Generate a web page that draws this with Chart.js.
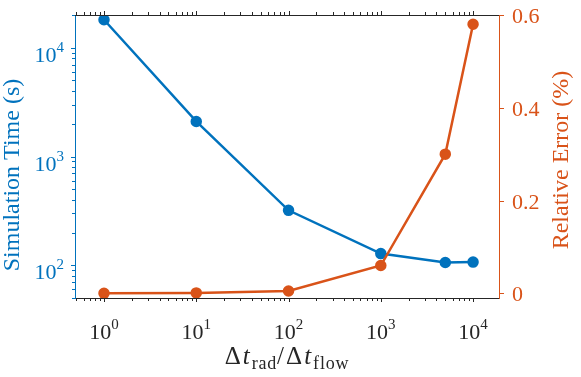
<!DOCTYPE html>
<html>
<head>
<meta charset="utf-8">
<script src="https://cdn.jsdelivr.net/npm/chart.js@4"></script>
<style>
  body { margin: 0; background: #fff; }
  #wrap { width: 581px; height: 377px; position: relative; }
</style>
</head>
<body>
<div id="wrap"><canvas id="timeChart"></canvas></div>
<script>
// data
const ratios = [1, 10, 100, 1000, 5000, 10000];
const simTime = [18100, 2100, 320, 128, 106, 107];
const relError = [0, 0.001, 0.005, 0.06, 0.3, 0.58];

// tick labels
const xExps = [0, 1, 2, 3, 4];
const timeExps = [2, 3, 4];
const errTicks = [0, 0.2, 0.4, 0.6];
const errLabels = ['0', '0.2', '0.4', '0.6'];

const BLUE = '#0072BD';
const ORANGE = '#D95319';
const DARK = '#262626';
const SERIF = '"Liberation Serif", "DejaVu Serif", serif';

function minorTicks(lo, hi) {
    const out = [];
    for (let e = -1; e <= 5; e++) {
        for (let k = 1; k < 10; k++) {
            const v = k * Math.pow(10, e);
            if (v >= lo && v <= hi) out.push({ v: v, major: k === 1 });
        }
    }
    return out;
}

// draws "10" with a raised exponent, x is the anchor
function drawPow(ctx, exp, x, y, align, color) {
    ctx.fillStyle = color;
    ctx.font = '22px ' + SERIF;
    const wb = ctx.measureText('10').width;
    ctx.font = '15px ' + SERIF;
    const we = ctx.measureText(String(exp)).width;
    const total = wb + we;
    let x0 = align === 'center' ? x - total / 2 : x - total;
    ctx.textAlign = 'left';
    ctx.textBaseline = 'alphabetic';
    ctx.font = '22px ' + SERIF;
    ctx.fillText('10', x0, y);
    ctx.font = '15px ' + SERIF;
    ctx.fillText(String(exp), x0 + wb, y - 10);
}

const frame = {
    id: 'frame',
    afterDraw(chart) {
        const { ctx, chartArea: a, scales } = chart;
        const x = scales.x, yt = scales.yTime, ye = scales.yErr;
        ctx.save();
        ctx.lineWidth = 1;

        // top spine
        ctx.strokeStyle = DARK;
        ctx.beginPath();
        ctx.moveTo(a.left, Math.round(a.top) + 0.5);
        ctx.lineTo(a.right, Math.round(a.top) + 0.5);
        ctx.stroke();

        // x ticks, bottom and top, outward
        minorTicks(x.min, x.max).forEach(t => {
            const px = Math.round(x.getPixelForValue(t.v)) + 0.5;
            const len = t.major ? 4 : 3;
            ctx.beginPath();
            ctx.moveTo(px, a.bottom);
            ctx.lineTo(px, a.bottom + len);
            ctx.moveTo(px, a.top);
            ctx.lineTo(px, a.top - len);
            ctx.stroke();
        });

        // left ticks
        ctx.strokeStyle = BLUE;
        minorTicks(yt.min, yt.max).forEach(t => {
            const py = Math.round(yt.getPixelForValue(t.v)) + 0.5;
            const len = t.major ? 4 : 3;
            ctx.beginPath();
            ctx.moveTo(a.left, py);
            ctx.lineTo(a.left - len, py);
            ctx.stroke();
        });

        // right ticks
        ctx.strokeStyle = ORANGE;
        errTicks.forEach(v => {
            const py = Math.round(ye.getPixelForValue(v)) + 0.5;
            ctx.beginPath();
            ctx.moveTo(a.right, py);
            ctx.lineTo(a.right + 5, py);
            ctx.stroke();
        });

        // tick labels
        xExps.forEach(e => {
            drawPow(ctx, e, x.getPixelForValue(Math.pow(10, e)), a.bottom + 41, 'center', DARK);
        });
        timeExps.forEach(e => {
            drawPow(ctx, e, a.left - 11, yt.getPixelForValue(Math.pow(10, e)) + 14, 'right', BLUE);
        });
        ctx.font = '22px ' + SERIF;
        ctx.fillStyle = ORANGE;
        ctx.textAlign = 'left';
        errTicks.forEach((v, i) => {
            ctx.fillText(errLabels[i], a.right + 13, ye.getPixelForValue(v) + 8);
        });

        // y titles
        ctx.font = '24px ' + SERIF;
        ctx.textAlign = 'center';
        ctx.save();
        ctx.translate(19, 175);
        ctx.rotate(-Math.PI / 2);
        ctx.fillStyle = BLUE;
        ctx.fillText('Simulation Time (s)', 0, 0);
        ctx.restore();
        ctx.save();
        ctx.translate(568, 160);
        ctx.rotate(-Math.PI / 2);
        ctx.fillStyle = ORANGE;
        ctx.fillText('Relative Error (%)', 0, 0);
        ctx.restore();

        // x title: Δt_rad / Δt_flow
        const parts = [
            { s: '\u0394', f: '25px ' + SERIF, dy: 0, gap: 2 },
            { s: 't', f: 'italic 25px ' + SERIF, dy: 0, gap: 2 },
            { s: 'rad', f: '18px ' + SERIF, dy: 5, gap: 0.8 },
            { s: '/', f: '25px ' + SERIF, dy: 0, gap: 2 },
            { s: '\u0394', f: '25px ' + SERIF, dy: 0, gap: 2 },
            { s: 't', f: 'italic 25px ' + SERIF, dy: 0, gap: 2 },
            { s: 'flow', f: '18px ' + SERIF, dy: 5, gap: 0.8 }
        ];
        let total = 0;
        parts.forEach(p => {
            ctx.font = p.f;
            p.w = ctx.measureText(p.s).width + p.gap * p.s.length;
            total += p.w;
        });
        let cx = (a.left + a.right) / 2 - total / 2;
        ctx.fillStyle = DARK;
        ctx.textAlign = 'left';
        parts.forEach(p => {
            ctx.font = p.f;
            for (const ch of p.s) {
                ctx.fillText(ch, cx, 364 + p.dy);
                cx += ctx.measureText(ch).width + p.gap;
            }
        });
        ctx.restore();
    }
};

const ctx = document.getElementById('timeChart').getContext('2d');
new Chart(ctx, {
    type: 'line',
    data: {
        labels: ratios,
        datasets: [{
            label: 'Simulation Time',
            data: simTime,
            yAxisID: 'yTime',
            borderColor: BLUE,
            backgroundColor: BLUE,
            borderWidth: 2.5,
            pointRadius: 4.5,
            pointHoverRadius: 4.5,
            order: 2
        }, {
            label: 'Relative Error',
            data: relError,
            yAxisID: 'yErr',
            borderColor: ORANGE,
            backgroundColor: ORANGE,
            borderWidth: 2.5,
            pointRadius: 4.5,
            pointHoverRadius: 4.5,
            order: 1
        }]
    },
    options: {
        responsive: true,
        maintainAspectRatio: false,
        animation: false,
        layout: { padding: { left: 75, right: 82, top: 15, bottom: 79 } },
        plugins: { legend: { display: false }, tooltip: { enabled: false } },
        scales: {
            x: {
                type: 'logarithmic',
                min: 0.485, max: 19100,
                ticks: { display: false },
                grid: { display: false, drawTicks: false },
                border: { color: DARK, width: 1 }
            },
            yTime: {
                type: 'logarithmic',
                position: 'left',
                min: 50, max: 20000,
                ticks: { display: false },
                grid: { display: false, drawTicks: false },
                border: { color: BLUE, width: 1 }
            },
            yErr: {
                type: 'linear',
                position: 'right',
                min: -0.01, max: 0.6,
                ticks: { display: false },
                grid: { display: false, drawTicks: false },
                border: { color: ORANGE, width: 1 }
            }
        }
    },
    plugins: [frame]
});
</script>
</body>
</html>
